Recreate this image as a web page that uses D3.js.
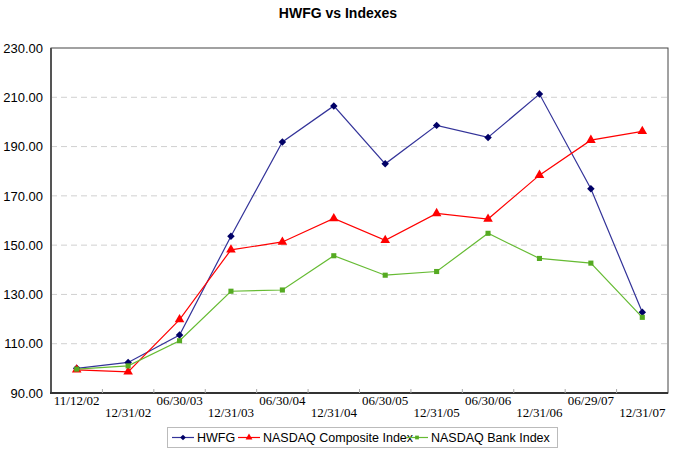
<!DOCTYPE html>
<html><head><meta charset="utf-8">
<script src="https://cdn.jsdelivr.net/npm/d3@7"></script>
<style>body{margin:0;background:#fff}svg{display:block}</style>
</head><body><svg id="c" width="675" height="450"></svg>
<script>
const categories = ["11/12/02","12/31/02","06/30/03","12/31/03","06/30/04","12/31/04","06/30/05","12/31/05","06/30/06","12/31/06","06/29/07","12/31/07"];
const hwfg     = [100.0, 102.4, 113.5, 153.6, 191.9, 206.5, 183.0, 198.6, 193.7, 211.3, 172.9, 122.8];
const composite= [ 99.4,  98.6, 119.8, 148.1, 151.3, 160.8, 152.0, 162.9, 160.6, 178.4, 192.6, 196.2];
const bank     = [ 99.7, 101.0, 111.2, 131.3, 131.8, 145.7, 137.8, 139.3, 154.8, 144.6, 142.7, 120.7];
const yTicks   = [90, 110, 130, 150, 170, 190, 210, 230];
const seriesNames = ["HWFG","NASDAQ Composite Index","NASDAQ Bank Index"];

const svg = d3.select("#c");
const L = 51, R = 668, T = 48, B = 393;
const x = d3.scaleBand().domain(categories).range([L, R]);
const y = d3.scaleLinear().domain([90, 230]).range([B, T]);

svg.append("text").attr("x", 338).attr("y", 18).attr("text-anchor","middle")
  .attr("font-family","Liberation Sans, Arial, sans-serif").attr("font-weight","bold")
  .attr("font-size", 14).text("HWFG vs Indexes");

// gridlines
svg.append("g").selectAll("line").data(yTicks.filter(d => d > 90 && d < 230)).join("line")
  .attr("x1", L).attr("x2", R).attr("y1", d => y(d)).attr("y2", d => y(d))
  .attr("stroke", "#d0d0d0").attr("stroke-dasharray", "6,4").attr("stroke-width", 1);

// frame
svg.append("rect").attr("x", L).attr("y", T).attr("width", R - L).attr("height", B - T)
  .attr("fill","none").attr("stroke","#444").attr("stroke-width",1);
svg.append("line").attr("x1", L).attr("x2", L).attr("y1", T).attr("y2", B+1).attr("stroke","#555").attr("stroke-width",2);
svg.append("line").attr("x1", L-1).attr("x2", R).attr("y1", B).attr("y2", B).attr("stroke","#333").attr("stroke-width",2);

// y axis labels
const yAxis = d3.axisLeft(y).tickValues(yTicks).tickSize(0).tickPadding(8).tickFormat(d3.format(".2f"));
const ya = svg.append("g").attr("transform", `translate(${L},0)`).call(yAxis);
ya.select(".domain").remove();
ya.selectAll("text").attr("font-family","Liberation Sans, Arial, sans-serif").attr("font-size",13).attr("fill","#000");

// x ticks at band boundaries (inward)
const bounds = categories.slice(1).map(c => x(c));
svg.append("g").selectAll("line").data(bounds).join("line")
  .attr("x1", d => d).attr("x2", d => d).attr("y1", B).attr("y2", B - 4)
  .attr("stroke", "#aaa").attr("stroke-width", 1);

// x labels staggered
const xAxis = d3.axisBottom(x).tickSize(0).tickPadding(0);
const xa = svg.append("g").attr("transform", `translate(0,${B})`).call(xAxis);
xa.select(".domain").remove();
xa.selectAll("text")
  .attr("font-family","Liberation Serif, Times New Roman, serif").attr("font-size",13).attr("fill","#000")
  .attr("dy", null)
  .attr("y", (d, i) => i % 2 === 0 ? 11.5 : 23.5);

const cx = d => x(d) + x.bandwidth() / 2;
const series = [
  {name: seriesNames[0], values: hwfg, line: "#333399", mark: "#000066", shape: d3.symbolSquare, rot: 45, size: 28, lsize: 16},
  {name: seriesNames[1], values: composite, line: "#ff0000", mark: "#ff0000", shape: d3.symbolTriangle, rot: 0, size: 40, lsize: 20},
  {name: seriesNames[2], values: bank, line: "#66bb33", mark: "#55aa22", shape: d3.symbolSquare, rot: 0, size: 26, lsize: 14}
];
const lineGen = d3.line().x((d, i) => cx(categories[i])).y(d => y(d));
series.forEach(s => {
  svg.append("path").attr("d", lineGen(s.values)).attr("fill","none").attr("stroke", s.line).attr("stroke-width",1.2);
  svg.append("g").selectAll("path").data(s.values).join("path")
    .attr("transform", (d, i) => `translate(${cx(categories[i])},${y(d)}) rotate(${s.rot})`)
    .attr("d", d3.symbol().type(s.shape).size(s.size)).attr("fill", s.mark);
});

// legend
const lg = svg.append("g");
lg.append("rect").attr("x", 167.5).attr("y", 427.5).attr("width", 390).attr("height", 20)
  .attr("fill","#fff").attr("stroke","#bbb");
const lx = [172, 238, 406];
series.forEach((s, i) => {
  const g = lg.append("g").attr("transform", `translate(${lx[i]},437.5)`);
  g.append("line").attr("x1",0).attr("x2",22).attr("stroke",s.line).attr("stroke-width",1.2);
  g.append("path").attr("transform",`translate(11,0) rotate(${s.rot})`).attr("d", d3.symbol().type(s.shape).size(s.lsize)).attr("fill", s.mark);
  g.append("text").attr("x", 25).attr("y", 4.5).attr("font-family","Liberation Sans, Arial, sans-serif")
    .attr("font-size", 12.5).text(s.name);
});
</script></body></html>
